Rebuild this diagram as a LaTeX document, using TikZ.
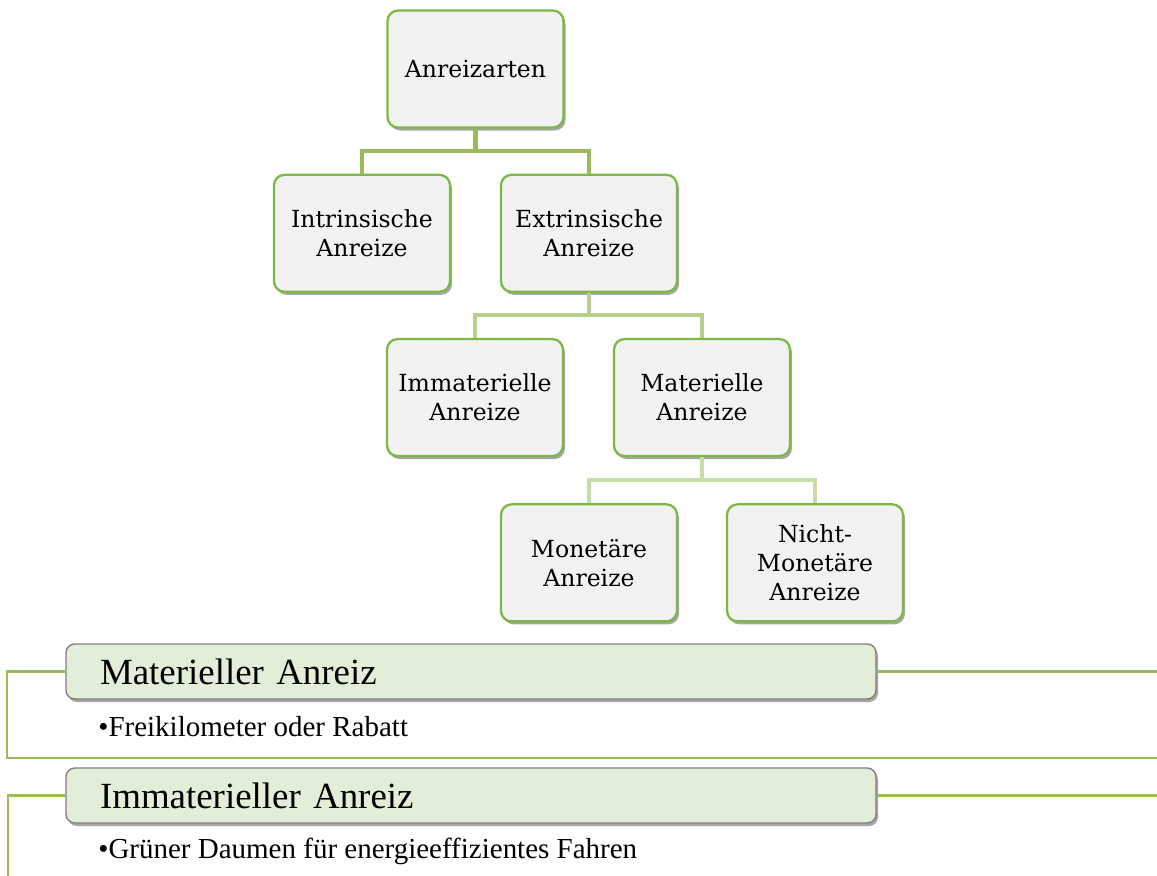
\documentclass[tikz,border=0pt]{standalone}
\usepackage{fontspec}
\setmainfont{Liberation Serif}
\newfontfamily\boxfont{DejaVu Serif}
\usetikzlibrary{positioning,shadows,calc}
\definecolor{Leaf}{HTML}{7CB845}
\definecolor{Olive}{HTML}{9BBB59}
\definecolor{OliveMid}{HTML}{B4CF8E}
\definecolor{OliveLight}{HTML}{C8DCAA}
\definecolor{Paper}{HTML}{F2F2F2}
\definecolor{Sage}{HTML}{E2EED8}
\tikzset{
 unit/.style={draw=Leaf,line width=1.3pt,fill=Paper,rounded corners=6pt,align=center,
   font=\boxfont\fontsize{13.4}{16.5}\selectfont,minimum width=3.52cm,minimum height=2.34cm,
   drop shadow={shadow xshift=0.04cm,shadow yshift=-0.06cm,opacity=0.35,fill=black}},
 header/.style={draw=black!50,line width=0.8pt,fill=Sage,rounded corners=5pt,align=left,
   font=\fontsize{21}{24}\selectfont,text width=14.84cm,inner xsep=0.68cm,minimum height=1.1cm,
   drop shadow={shadow xshift=0.04cm,shadow yshift=-0.06cm,opacity=0.35,fill=black}},
 item/.style={font=\fontsize{16.5}{19}\selectfont,anchor=west,inner sep=0pt},
 tie/.style={line width=2.3pt,draw=Olive},
 rule/.style={line width=1.3pt,draw=Olive}
}
\begin{document}
\begin{tikzpicture}
\useasboundingbox (0,0) rectangle (23.14,-17.52);
% tree
\node[unit] (top) at (9.51,-1.38) {Anreizarten};
\node[unit,below=0.9cm of top.south,xshift=-2.27cm,anchor=north] (intr) {Intrinsische\\Anreize};
\node[unit,below=0.9cm of top.south,xshift=2.27cm,anchor=north] (extr) {Extrinsische\\Anreize};
\node[unit,below=0.9cm of extr.south,xshift=-2.28cm,anchor=north] (immat) {Immaterielle\\Anreize};
\node[unit,below=0.9cm of extr.south,xshift=2.26cm,anchor=north] (mat) {Materielle\\Anreize};
\node[unit,below=0.92cm of mat.south,xshift=-2.26cm,anchor=north] (mon) {Monetäre\\Anreize};
\node[unit,below=0.92cm of mat.south,xshift=2.26cm,anchor=north] (nmon) {Nicht-\\Monetäre\\Anreize};
\draw[tie] (top.south) -- ++(0,-0.44) -| (intr.north);
\draw[tie] (top.south) -- ++(0,-0.44) -| (extr.north);
\draw[tie,draw=OliveMid] (extr.south) -- ++(0,-0.44) -| (immat.north);
\draw[tie,draw=OliveMid] (extr.south) -- ++(0,-0.44) -| (mat.north);
\draw[tie,draw=OliveLight] (mat.south) -- ++(0,-0.46) -| (mon.north);
\draw[tie,draw=OliveLight] (mat.south) -- ++(0,-0.46) -| (nmon.north);
% list
\coordinate (e1) at (23.14,-15.16);
\coordinate (e2) at (0.16,-17.52);
\node[header] (hdr1) at (9.42,-13.43) {Materieller Anreiz};
\node[item] (it1) at (1.96,-14.54) {•Freikilometer oder Rabatt};
\node[header] (hdr2) at (9.42,-15.91) {Immaterieller Anreiz};
\node[item] (it2) at (1.96,-17.02) {•Grüner Daumen für energieeffizientes Fahren};
\draw[rule] (hdr1.west) -- ++(-1.16,0) |- (e1);
\draw[rule] (hdr1.east) -- (hdr1.east -| e1);
\draw[rule] (hdr2.west) -| (e2);
\draw[rule] (hdr2.east) -- (hdr2.east -| e1);
\end{tikzpicture}
\end{document}
